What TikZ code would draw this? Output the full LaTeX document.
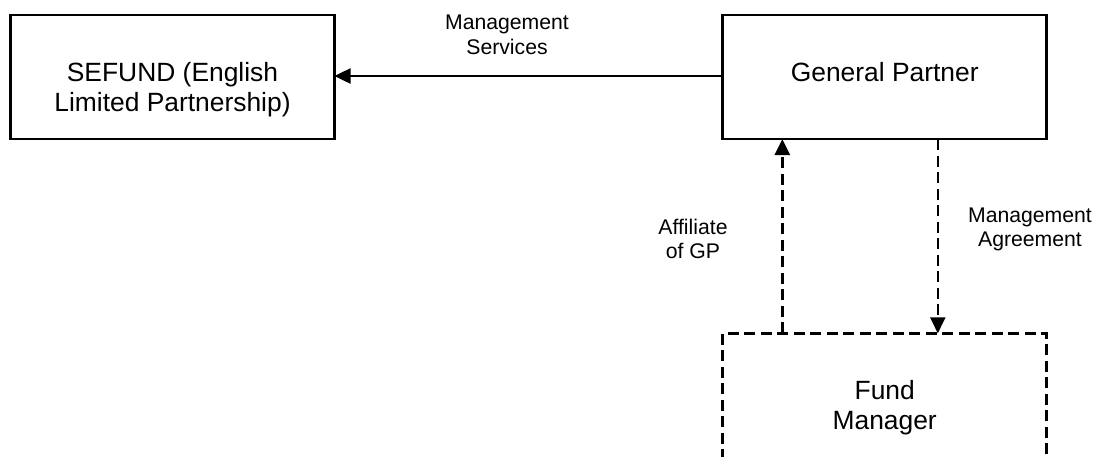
\documentclass[tikz,border=0pt]{standalone}
\usepackage{fontspec}
\setmainfont{Liberation Sans}
\usetikzlibrary{arrows.meta}

\tikzset{
  entity/.style={draw, line width=2.5pt, minimum width=324pt, minimum height=124pt,
    inner sep=0pt, outer sep=0pt},
  dashedentity/.style={entity, dash pattern=on 11pt off 5.5pt},
  boxtext/.style={align=center, inner sep=0pt, font=\fontsize{26.4}{30}\selectfont},
  linklabel/.style={align=center, inner sep=0pt, font=\fontsize{21.2}{24.5}\selectfont},
  flow/.style={line width=2.5pt, -{Triangle[length=16pt, width=15pt]}},
  dashedflow/.style={flow, dash pattern=on 11pt off 5.5pt},
}

\begin{document}
\begin{tikzpicture}[x=1pt, y=-1pt]
  \useasboundingbox (0,0) rectangle (1097,456);
  \clip (0,0) rectangle (1097,456);

  % entities
  \node[entity] (sefund) at (172.5,77) {};
  \node[entity] (gp) at (884.7,77) {};
  \node[dashedentity, minimum height=160pt] (fm) at (884.7,413.3) {};

  % entity names
  \node[boxtext] (sefundtext) at (172.5,90) {SEFUND (English\\Limited Partnership)};
  \node[boxtext] (gptext) at (884.7,72.5) {General Partner};
  \node[boxtext] (fmtext) at (884.7,408) {Fund\\Manager};

  % connector positions along the general partner's lower edge
  \coordinate (upx) at (782.3,0);
  \coordinate (downx) at (937.8,0);

  % connectors
  \draw[flow] ([yshift=1pt]gp.west) -- ([yshift=1pt]sefund.east);
  \draw[dashedflow] (fm.north -| upx) -- (gp.south -| upx);
  \draw[dashedflow] (gp.south -| downx) -- (fm.north -| downx);

  % connector labels
  \node[linklabel] (svc) at (507,35) {Management\\Services};
  \node[linklabel] (aff) at (693,239) {Affiliate\\of GP};
  \node[linklabel] (agr) at (1030,229.6) {Management\\Agreement};
\end{tikzpicture}
\end{document}
